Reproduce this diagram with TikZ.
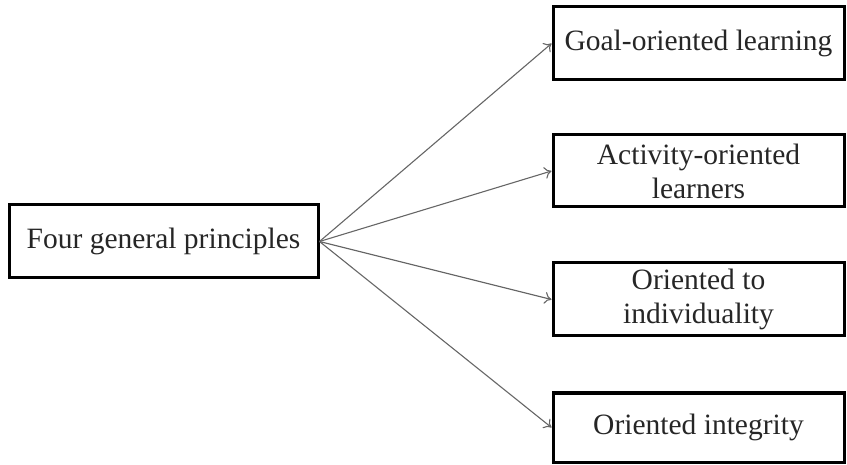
\documentclass[tikz,border=0pt]{standalone}
\usepackage{fontspec}
\setmainfont{Liberation Serif}
\usetikzlibrary{arrows.meta}
\begin{document}
\begin{tikzpicture}[x=1pt,y=-1pt,
  box/.style={draw=black,line width=3pt,fill=white,inner sep=0pt,align=center,
    font=\fontsize{29.5}{34}\selectfont,text=black!85},
  conn/.style={draw=black!60,line width=1.1pt,-{To[length=7pt,width=12pt]}}]
\useasboundingbox (0,0) rectangle (847,465);
\node[box,minimum width=309pt,minimum height=73pt] (src) at (163.5,241.5) {Four general principles};
\node[box,minimum width=291pt,minimum height=73pt] (g) at (698.5,43.5) {Goal-oriented learning};
\node[box,minimum width=291pt,minimum height=72pt] (a) at (698.5,171) {Activity-oriented\\learners};
\node[box,minimum width=291pt,minimum height=73pt] (o) at (698.5,299.5) {Oriented to\\individuality};
\node[box,minimum width=291pt,minimum height=69pt] (i) at (698.5,427.5) {Oriented integrity};
\coordinate (s) at (src.east);
\draw[conn] (s) -- (g.west);
\draw[conn] (s) -- (a.west);
\draw[conn] (s) -- (o.west);
\draw[conn] (s) -- (i.west);
\end{tikzpicture}
\end{document}
